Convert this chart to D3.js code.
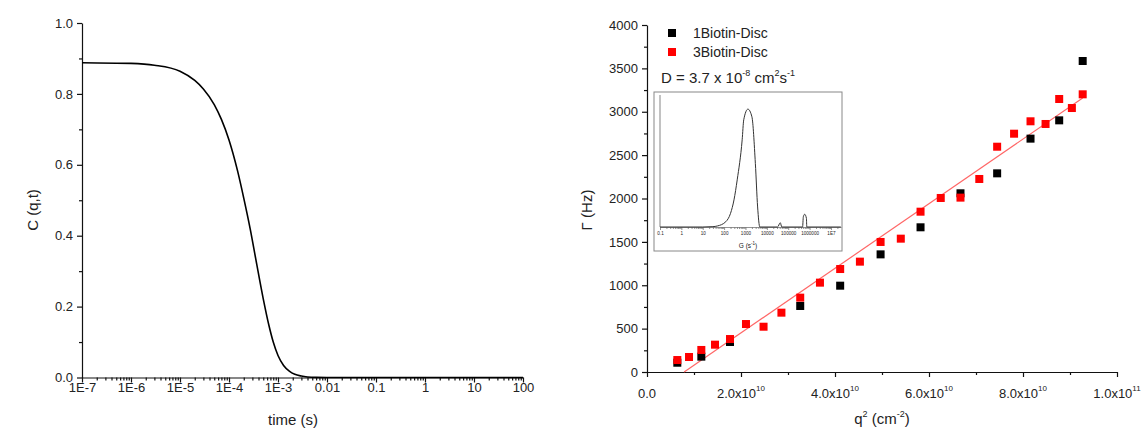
<!DOCTYPE html>
<html>
<head>
<meta charset="utf-8">
<script src="https://cdn.jsdelivr.net/npm/d3@7"></script>
<style>
  body { margin: 0; background: #fff; }
  svg text { font-family: "Liberation Sans", Arial, sans-serif; fill: #222; }
</style>
</head>
<body>
<svg id="chart" width="1145" height="429"></svg>
<script>
// ---- left panel: correlation function C(q,t)
const corrTime = [1e-7, 1e-6, 3e-6, 1e-5, 2e-5, 3e-5, 5e-5, 7e-5, 1e-4, 1.5e-4, 2e-4, 2.7e-4, 3.5e-4, 5e-4, 6.5e-4, 8e-4, 1e-3, 1.3e-3, 1.7e-3, 2.2e-3, 3e-3, 4e-3, 6e-3, 1e-2, 1, 100]
const corrValue = [0.888, 0.886, 0.881, 0.864, 0.838, 0.814, 0.77, 0.728, 0.67, 0.582, 0.506, 0.42, 0.336, 0.222, 0.148, 0.1, 0.062, 0.034, 0.018, 0.009, 0.004, 0.0015, 0.0003, 0, 0, 0]
const leftXTickLabels = ["1E-7", "1E-6", "1E-5", "1E-4", "1E-3", "0.01", "0.1", "1", "10", "100"]
const leftYTicks = [0, 0.2, 0.4, 0.6, 0.8, 1.0]

// ---- right panel: relaxation rate vs q^2
const q2Black = [6.45e9, 1.156e10, 1.766e10, 3.26e10, 4.11e10, 4.97e10, 5.82e10, 6.67e10, 7.45e10, 8.16e10, 8.77e10, 9.27e10]
const gammaBlack = [107, 177, 346, 761, 995, 1356, 1668, 2060, 2290, 2690, 2901, 3585]
const q2Red = [6.45e9, 8.94e9, 1.156e10, 1.447e10, 1.766e10, 2.106e10, 2.48e10, 2.86e10, 3.26e10, 3.68e10, 4.11e10, 4.53e10, 4.97e10, 5.40e10, 5.82e10, 6.25e10, 6.67e10, 7.07e10, 7.45e10, 7.81e10, 8.16e10, 8.48e10, 8.77e10, 9.04e10, 9.27e10]
const gammaRed = [138, 173, 254, 315, 380, 553, 522, 684, 857, 1030, 1187, 1272, 1499, 1537, 1848, 2006, 2010, 2225, 2597, 2747, 2890, 2859, 3147, 3043, 3201]
const fitQ2 = [7.9e9, 9.27e10]
const fitGamma = [0, 3158]
const rightXTicks = [0, 2e10, 4e10, 6e10, 8e10, 1e11]
const rightXMantissa = ["0.0", "2.0", "4.0", "6.0", "8.0", "1.0"]
const rightXExponent = ["", "10", "10", "10", "10", "11"]
const rightYTicks = [0, 500, 1000, 1500, 2000, 2500, 3000, 3500, 4000]
const seriesNames = ["1Biotin-Disc", "3Biotin-Disc"]
const seriesColors = ["#000000", "#ff0000"]

// ---- inset: distribution of relaxation rates G
const insetG = [0.1, 10, 30, 48, 120, 200, 290, 410, 700, 830, 1300, 2000, 2900, 3700, 4700, 30000, 31600, 42600, 50000, 470000, 510000, 590000, 710000, 740000, 1e7, 2.9e7]
const insetVal = [0, 0, 0.003, 0.0085, 0.045, 0.116, 0.23, 0.40, 0.74, 0.91, 1.0, 0.935, 0.54, 0.17, 0, 0, 0, 0.036, 0, 0, 0.087, 0.108, 0.074, 0, 0, 0]
const insetXLabels = ["0.1", "1", "10", "100", "1000", "10000", "100000", "1000000", "1E7"]

const svg = d3.select("#chart")

// ================= left panel =================
const xL = d3.scaleLog().domain([1e-7, 100]).range([82, 523])
const yL = d3.scaleLinear().domain([0, 1]).range([377.5, 23])
const left = svg.append("g")

const decades = d3.range(-7, 3).map(e => Math.pow(10, e))
const minorL = []
decades.slice(0, -1).forEach(d => { for (let k = 2; k <= 9; k++) minorL.push(d * k) })

left.append("g")
    .attr("transform", `translate(0,${yL(0)})`)
    .call(d3.axisBottom(xL).tickValues(minorL).tickSize(3).tickFormat("").tickSizeOuter(0))
    .call(g => g.select(".domain").remove())
left.append("g")
    .attr("transform", `translate(0,${yL(0)})`)
    .call(d3.axisBottom(xL).tickValues(decades).tickSize(5).tickSizeOuter(0)
        .tickFormat((d, i) => leftXTickLabels[i]))
    .call(g => g.selectAll("text").attr("font-size", 13).attr("dy", null).attr("y", 14))

left.append("g")
    .attr("transform", `translate(${xL(1e-7)},0)`)
    .call(d3.axisLeft(yL).tickValues(d3.range(0.1, 1, 0.2)).tickSize(3).tickFormat("").tickSizeOuter(0))
    .call(g => g.select(".domain").remove())
left.append("g")
    .attr("transform", `translate(${xL(1e-7)},0)`)
    .call(d3.axisLeft(yL).tickValues(leftYTicks).tickSize(5).tickSizeOuter(0).tickFormat(d3.format(".1f")))
    .call(g => g.selectAll("text").attr("font-size", 13).attr("x", -9))

left.selectAll(".domain, line").attr("stroke", "#111").attr("stroke-width", 1.2)

left.append("path")
    .datum(corrTime.map((t, i) => [t, corrValue[i]]))
    .attr("fill", "none")
    .attr("stroke", "#000")
    .attr("stroke-width", 1.6)
    .attr("d", d3.line().x(d => xL(d[0])).y(d => yL(d[1])).curve(d3.curveMonotoneX))

left.append("text").attr("x", 293).attr("y", 425).attr("text-anchor", "middle")
    .attr("font-size", 15).text("time (s)")
left.append("text").attr("transform", "translate(38,210) rotate(-90)").attr("text-anchor", "middle")
    .attr("font-size", 15).text("C (q,t)")

// ================= right panel =================
const xR = d3.scaleLinear().domain([0, 1e11]).range([647, 1117])
const yR = d3.scaleLinear().domain([0, 4000]).range([372, 25])
const right = svg.append("g")

right.append("g")
    .attr("transform", `translate(0,${yR(0)})`)
    .call(d3.axisBottom(xR).tickValues(d3.range(1e10, 1e11, 2e10)).tickSize(3).tickFormat("").tickSizeOuter(0))
    .call(g => g.select(".domain").remove())
right.append("g")
    .attr("transform", `translate(0,${yR(0)})`)
    .call(d3.axisBottom(xR).tickValues(rightXTicks).tickSize(5).tickSizeOuter(0).tickFormat(""))

const xLab = right.selectAll(".xlab").data(rightXTicks).join("text")
    .attr("class", "xlab")
    .attr("x", d => xR(d)).attr("y", 398)
    .attr("text-anchor", "middle").attr("font-size", 13)
xLab.append("tspan").text((d, i) => rightXMantissa[i] + (rightXExponent[i] ? "x10" : ""))
xLab.append("tspan").attr("dy", -7).attr("font-size", 8).text((d, i) => rightXExponent[i])

right.append("g")
    .attr("transform", `translate(${xR(0)},0)`)
    .call(d3.axisLeft(yR).tickValues(d3.range(250, 4000, 500)).tickSize(3).tickFormat("").tickSizeOuter(0))
    .call(g => g.select(".domain").remove())
right.append("g")
    .attr("transform", `translate(${xR(0)},0)`)
    .call(d3.axisLeft(yR).tickValues(rightYTicks).tickSize(5).tickSizeOuter(0).tickFormat(d3.format("d")))
    .call(g => g.selectAll("text").attr("font-size", 13).attr("x", -9))

right.selectAll(".domain, line").attr("stroke", "#111").attr("stroke-width", 1.2)

// fit line
right.append("line")
    .attr("x1", xR(fitQ2[0])).attr("y1", yR(fitGamma[0]))
    .attr("x2", xR(fitQ2[1])).attr("y2", yR(fitGamma[1]))
    .attr("stroke", "#ff6666").attr("stroke-width", 1.2)

const sq = 8
const series = [
    q2Black.map((q, i) => ({ q, g: gammaBlack[i] })),
    q2Red.map((q, i) => ({ q, g: gammaRed[i] }))
]
series.forEach((pts, s) => {
    right.append("g").selectAll("rect").data(pts).join("rect")
        .attr("x", d => xR(d.q) - sq / 2)
        .attr("y", d => yR(d.g) - sq / 2)
        .attr("width", sq).attr("height", sq)
        .attr("fill", seriesColors[s])
})

// legend
const leg = right.append("g")
seriesNames.forEach((name, i) => {
    leg.append("rect").attr("x", 668).attr("y", 29 + i * 19).attr("width", sq).attr("height", sq)
        .attr("fill", seriesColors[i])
    leg.append("text").attr("x", 693).attr("y", 38 + i * 19).attr("font-size", 14).text(name)
})
const dText = leg.append("text").attr("x", 661).attr("y", 83).attr("font-size", 15)
dText.append("tspan").text("D = 3.7 x 10")
dText.append("tspan").attr("dy", -7).attr("font-size", 9).text("-8")
dText.append("tspan").attr("dy", 7).text(" cm")
dText.append("tspan").attr("dy", -7).attr("font-size", 9).text("2")
dText.append("tspan").attr("dy", 7).text("s")
dText.append("tspan").attr("dy", -7).attr("font-size", 9).text("-1")

// axis titles
right.append("text").attr("x", 882).attr("y", 424).attr("text-anchor", "middle").attr("font-size", 15)
    .call(t => {
        t.append("tspan").text("q")
        t.append("tspan").attr("dy", -7).attr("font-size", 9).text("2")
        t.append("tspan").attr("dy", 7).text(" (cm")
        t.append("tspan").attr("dy", -7).attr("font-size", 9).text("-2")
        t.append("tspan").attr("dy", 7).text(")")
    })
right.append("text").attr("transform", "translate(592,210) rotate(-90)").attr("text-anchor", "middle")
    .attr("font-size", 15).text("Γ (Hz)")

// ================= inset =================
const inset = svg.append("g")
inset.append("rect").attr("x", 654).attr("y", 92).attr("width", 188).attr("height", 159)
    .attr("fill", "#fff").attr("stroke", "#888").attr("stroke-width", 1)

const xI = d3.scaleLog().domain([0.1, Math.pow(10, 7.47)]).range([660, 841])
const yI = d3.scaleLinear().domain([0, 1.12]).range([227, 95])

const decI = d3.range(-1, 8).map(e => Math.pow(10, e))
const minorI = []
decI.forEach(d => { for (let k = 2; k <= 9; k++) if (d * k < xI.domain()[1]) minorI.push(d * k) })

inset.append("g")
    .attr("transform", `translate(0,${yI(0)})`)
    .call(d3.axisBottom(xI).tickValues(minorI).tickSize(2).tickFormat("").tickSizeOuter(0))
    .call(g => g.select(".domain").remove())
inset.append("g")
    .attr("transform", `translate(0,${yI(0)})`)
    .call(d3.axisBottom(xI).tickValues(decI).tickSize(3).tickSizeOuter(0).tickFormat((d, i) => insetXLabels[i]))
    .call(g => g.selectAll("text").attr("font-size", 4.6).attr("y", 5).attr("fill", "#333"))
inset.selectAll(".domain, line").attr("stroke", "#777").attr("stroke-width", 0.8)

inset.append("line").attr("x1", xI(0.1)).attr("x2", xI(0.1)).attr("y1", yI(0)).attr("y2", 95)
    .attr("stroke", "#999").attr("stroke-width", 1.2)

inset.append("path")
    .datum(insetG.map((g, i) => [g, insetVal[i]]))
    .attr("fill", "none").attr("stroke", "#333").attr("stroke-width", 1)
    .attr("d", d3.line().x(d => xI(d[0])).y(d => yI(d[1])).curve(d3.curveMonotoneX))

inset.append("text").attr("x", 748).attr("y", 248).attr("text-anchor", "middle").attr("font-size", 6.5)
    .call(t => {
        t.append("tspan").text("G (s")
        t.append("tspan").attr("dy", -3).attr("font-size", 4.5).text("-1")
        t.append("tspan").attr("dy", 3).text(")")
    })
</script>
</body>
</html>
